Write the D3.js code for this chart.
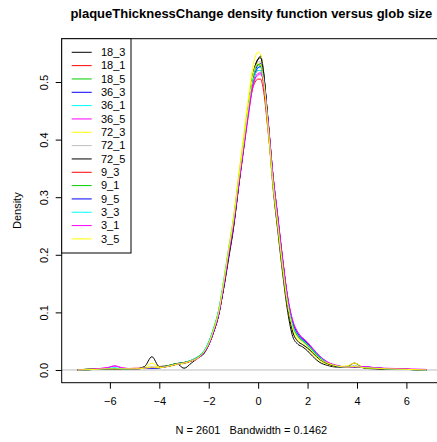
<!DOCTYPE html>
<html>
<head>
<meta charset="utf-8">
<script src="https://cdn.jsdelivr.net/npm/d3@7"></script>
<style>
  body { margin: 0; background: #fff; }
  svg { font-family: "Liberation Sans", Arial, sans-serif; }
</style>
</head>
<body>
<div id="chart"></div>
<script>
// density grid (x values shared by every curve)
const gridX = [-7.3, -6.6, -6.1, -5.8, -5.5, -5.0, -4.6, -4.3, -4.0, -3.6, -3.3, -3.0, -2.7, -2.4, -2.2, -2.0,
  -1.8, -1.6, -1.4, -1.2, -1.0, -0.8, -0.6, -0.4, -0.2, 0.0, 0.1, 0.2, 0.4, 0.6, 0.8, 1.0,
  1.2, 1.4, 1.6, 1.8, 2.0, 2.2, 2.5, 2.8, 3.2, 3.6, 3.9, 4.3, 4.7, 5.2, 6.0, 6.8];

const seriesNames = ['18_3', '18_1', '18_5', '36_3', '36_1', '36_5', '72_3', '72_1', '72_5',
  '9_3', '9_1', '9_5', '3_3', '3_1', '3_5'];
const seriesColors = ['black', 'red', '#00CD00', 'blue', 'cyan', 'magenta', 'yellow', '#BEBEBE', 'black',
  'red', '#00CD00', 'blue', 'cyan', 'magenta', 'yellow'];

const d18_3 = [0, .001, .002, .002, .002, .002, .006, .023, .006, .008, .011, .003, .012, .022, .028, .044, .070, .100, .140, .192, .245, .315, .385, .455, .515, .540, .545, .525, .425, .318, .240, .165, .100, .058, .045, .040, .033, .024, .013, .008, .005, .006, .012, .003, .002, .001, .001, 0];
const d18_1 = [0, .001, .002, .002, .002, .003, .003, .004, .005, .007, .010, .012, .016, .023, .031, .046, .070, .099, .148, .203, .255, .322, .385, .448, .492, .505, .505, .490, .415, .330, .258, .185, .120, .080, .062, .052, .044, .035, .022, .013, .007, .005, .005, .004, .003, .002, .001, 0];
const d18_5 = [0, .002, .002, .002, .002, .002, .003, .003, .004, .008, .011, .013, .017, .023, .032, .048, .072, .103, .152, .208, .262, .330, .395, .460, .515, .530, .528, .508, .425, .328, .252, .178, .115, .076, .058, .050, .042, .033, .020, .012, .007, .005, .005, .004, .003, .002, .001, 0];
const d36_3 = [0, .001, .002, .002, .002, .002, .003, .003, .004, .007, .011, .013, .016, .022, .030, .044, .066, .095, .142, .197, .250, .318, .383, .450, .505, .530, .532, .518, .435, .338, .262, .188, .122, .082, .063, .054, .046, .036, .022, .013, .007, .005, .005, .005, .004, .002, .001, 0];
const d36_1 = [0, .001, .002, .003, .002, .002, .003, .004, .004, .007, .010, .012, .017, .024, .033, .049, .073, .104, .155, .210, .262, .328, .390, .455, .508, .525, .525, .508, .428, .332, .258, .183, .118, .078, .060, .052, .044, .034, .021, .013, .007, .005, .005, .004, .004, .002, .001, 0];
const d36_5 = [0, .002, .004, .007, .003, .002, .003, .004, .004, .007, .010, .012, .015, .021, .029, .043, .066, .095, .143, .198, .250, .315, .378, .440, .495, .515, .516, .505, .432, .338, .264, .190, .125, .085, .065, .055, .047, .037, .023, .014, .007, .005, .005, .005, .004, .002, .001, 0];
const d72_3 = [0, .001, .002, .002, .002, .002, .004, .012, .005, .006, .009, .011, .015, .022, .031, .047, .071, .102, .152, .210, .265, .335, .402, .470, .530, .552, .548, .520, .422, .322, .248, .172, .108, .068, .052, .044, .037, .028, .016, .010, .006, .007, .012, .004, .003, .002, .001, 0];
const d72_1 = [0, .001, .002, .002, .002, .002, .003, .006, .004, .007, .010, .012, .016, .022, .030, .045, .068, .097, .145, .200, .252, .320, .385, .452, .508, .535, .535, .515, .428, .330, .255, .180, .116, .076, .058, .050, .043, .034, .021, .013, .007, .005, .008, .004, .004, .002, .001, 0];
const d72_5 = [0, .001, .002, .002, .002, .002, .003, .004, .004, .007, .010, .012, .016, .022, .030, .044, .066, .095, .142, .196, .248, .316, .382, .452, .512, .540, .542, .522, .432, .330, .252, .175, .108, .066, .050, .044, .038, .030, .018, .011, .006, .005, .006, .004, .003, .002, .001, 0];
const d9_3 = [0, .001, .002, .002, .002, .002, .003, .004, .004, .007, .010, .012, .016, .023, .031, .046, .069, .099, .147, .202, .254, .321, .386, .450, .503, .520, .520, .505, .428, .334, .260, .185, .120, .079, .060, .052, .045, .035, .022, .013, .007, .005, .005, .004, .004, .002, .001, 0];
const d9_1 = [0, .002, .002, .002, .002, .002, .003, .004, .004, .008, .011, .013, .017, .024, .032, .048, .072, .102, .150, .205, .258, .326, .390, .455, .512, .530, .530, .512, .428, .330, .254, .180, .116, .077, .059, .051, .043, .034, .021, .013, .007, .005, .005, .004, .003, .002, .001, 0];
const d9_5 = [0, .001, .002, .002, .002, .002, .003, .003, .004, .007, .010, .012, .016, .022, .030, .045, .067, .096, .144, .199, .251, .318, .383, .448, .502, .525, .527, .514, .434, .337, .262, .187, .122, .081, .062, .053, .045, .036, .022, .013, .007, .005, .005, .005, .004, .002, .001, 0];
const d3_3 = [0, .001, .003, .004, .002, .002, .003, .004, .004, .007, .010, .012, .017, .023, .032, .048, .071, .101, .150, .205, .258, .324, .387, .450, .503, .520, .520, .505, .428, .333, .258, .183, .119, .079, .061, .052, .044, .035, .022, .013, .007, .005, .006, .005, .004, .002, .001, 0];
const d3_1 = [0, .002, .004, .007, .004, .002, .003, .004, .004, .007, .010, .012, .016, .022, .030, .044, .067, .096, .144, .199, .251, .317, .380, .443, .497, .512, .514, .503, .432, .338, .265, .190, .126, .086, .066, .056, .048, .038, .024, .014, .008, .005, .005, .006, .004, .003, .002, .001];
const d3_5 = [0, .001, .002, .002, .002, .002, .003, .005, .004, .007, .010, .012, .016, .022, .031, .046, .070, .100, .150, .206, .260, .328, .393, .458, .514, .532, .530, .510, .425, .326, .250, .176, .112, .073, .056, .048, .041, .032, .019, .012, .007, .005, .006, .004, .003, .002, .001, 0];

const densities = [d18_3, d18_1, d18_5, d36_3, d36_1, d36_5, d72_3, d72_1, d72_5,
  d9_3, d9_1, d9_5, d3_3, d3_1, d3_5];

const xTicks = [-6, -4, -2, 0, 2, 4, 6];
const yTicks = [0.0, 0.1, 0.2, 0.3, 0.4, 0.5];

const W = 437, H = 442;
const plot = {left: 61.7, top: 38.7, right: 441, bottom: 382.7};

const svg = d3.select('#chart').append('svg')
  .attr('width', W).attr('height', H);

const x = d3.scaleLinear().domain([-7.95, 7.4]).range([plot.left, plot.right]);
const y = d3.scaleLinear().domain([-0.0221, 0.5752]).range([plot.bottom, plot.top]);

svg.append('clipPath').attr('id', 'clip')
  .append('rect')
  .attr('x', plot.left).attr('y', plot.top)
  .attr('width', plot.right - plot.left).attr('height', plot.bottom - plot.top);

const g = svg.append('g').attr('clip-path', 'url(#clip)');

// abline(h = 0, col = "gray")
g.append('line')
  .attr('x1', plot.left).attr('x2', plot.right)
  .attr('y1', y(0)).attr('y2', y(0))
  .attr('stroke', '#BEBEBE').attr('stroke-width', 1);

const line = d3.line()
  .x((d, i) => x(gridX[i]))
  .y(d => y(d))
  .curve(d3.curveMonotoneX);

g.selectAll('path.dens')
  .data(densities)
  .join('path')
  .attr('class', 'dens')
  .attr('d', line)
  .attr('fill', 'none')
  .attr('stroke', (d, i) => seriesColors[i])
  .attr('stroke-width', 1);

// box
svg.append('rect')
  .attr('x', plot.left).attr('y', plot.top)
  .attr('width', plot.right - plot.left).attr('height', plot.bottom - plot.top)
  .attr('fill', 'none').attr('stroke', '#000').attr('stroke-width', 1);

// axes
const xAxis = svg.append('g')
  .attr('transform', `translate(0,${plot.bottom})`)
  .call(d3.axisBottom(x).tickValues(xTicks).tickSize(6).tickPadding(9)
    .tickFormat(d => d < 0 ? '\u2212' + Math.abs(d) : d));
xAxis.select('.domain').remove();
xAxis.selectAll('text').attr('font-size', 11).attr('fill', '#000').attr('font-family', null);

const yAxis = svg.append('g')
  .attr('transform', `translate(${plot.left},0)`)
  .call(d3.axisLeft(y).tickValues(yTicks).tickSize(6).tickFormat(d3.format('.1f')));
yAxis.select('.domain').remove();
yAxis.selectAll('text')
  .attr('font-size', 11).attr('fill', '#000').attr('font-family', null)
  .attr('x', null).attr('dy', null)
  .attr('text-anchor', 'middle')
  .attr('transform', 'translate(-14,0) rotate(-90)');

// titles
svg.append('text')
  .attr('x', (plot.left + plot.right) / 2).attr('y', 18)
  .attr('text-anchor', 'middle').attr('font-weight', 'bold').attr('font-size', 13)
  .text('plaqueThicknessChange density function versus glob size');

svg.append('text')
  .attr('x', (plot.left + plot.right) / 2).attr('y', 434)
  .attr('text-anchor', 'middle').attr('font-size', 11)
  .style('white-space', 'pre')
  .text('N = 2601   Bandwidth = 0.1462');

svg.append('text')
  .attr('transform', `translate(21,${(plot.top + plot.bottom) / 2}) rotate(-90)`)
  .attr('text-anchor', 'middle').attr('font-size', 11)
  .text('Density');

// legend
const legend = svg.append('g');
legend.append('rect')
  .attr('x', plot.left).attr('y', plot.top)
  .attr('width', 69.3).attr('height', 214.3)
  .attr('fill', '#fff').attr('stroke', '#000').attr('stroke-width', 1);

const items = legend.selectAll('g.item')
  .data(seriesNames)
  .join('g')
  .attr('class', 'item')
  .attr('transform', (d, i) => `translate(0,${52.3 + i * 13.33})`);

items.append('line')
  .attr('x1', 71.7).attr('x2', 91.7)
  .attr('stroke', (d, i) => seriesColors[i]).attr('stroke-width', 1);

items.append('text')
  .attr('x', 101).attr('dy', '0.35em')
  .attr('font-size', 11)
  .text(d => d);
</script>
</body>
</html>
